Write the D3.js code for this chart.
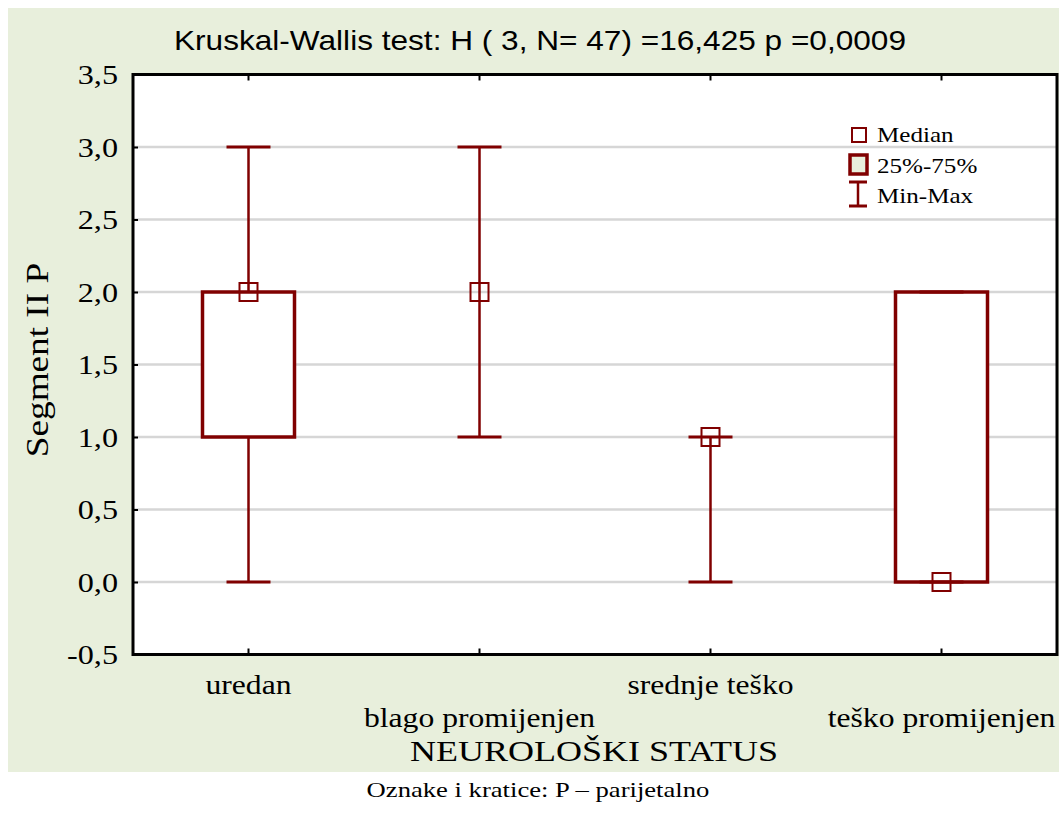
<!DOCTYPE html>
<html><head><meta charset="utf-8">
<script src="https://cdn.jsdelivr.net/npm/d3@7"></script>
<style>body{margin:0;background:#fff;} svg{display:block;}</style>
</head><body>
<svg id="c" width="1059" height="829"></svg>
<script>
const categories = ["uredan", "blago promijenjen", "srednje teško", "teško promijenjen"];
const mins    = [0, 1, 0, 0];
const q1s     = [1, 2, 1, 0];
const medians = [2, 2, 1, 0];
const q3s     = [2, 2, 1, 2];
const maxs    = [3, 3, 1, 2];
const yTicks  = [-0.5, 0, 0.5, 1, 1.5, 2, 2.5, 3, 3.5];
const gridTicks = [0, 0.5, 1, 1.5, 2, 2.5, 3];
const titleText = "Kruskal-Wallis test: H ( 3, N= 47) =16,425 p =0,0009";
const yLabel = "Segment II P";
const xLabel = "NEUROLOŠKI STATUS";
const footnote = "Oznake i kratice: P – parijetalno";
const legendItems = ["Median", "25%-75%", "Min-Max"];

const RED = "#800000", BG = "#E8EFDC";
const SERIF = "Liberation Serif, Times New Roman, serif";
const svg = d3.select("#c");
const L = 133, R = 1057, T = 74.5, B = 654.5;

function stretch(sel, f) {
  sel.each(function () {
    const w = this.getComputedTextLength();
    d3.select(this).attr("textLength", w * f).attr("lengthAdjust", "spacingAndGlyphs");
  });
}

svg.append("rect").attr("x", 8).attr("y", 8).attr("width", 1051).attr("height", 764).attr("fill", BG);
svg.append("rect").attr("x", L).attr("y", T).attr("width", R - L).attr("height", B - T).attr("fill", "#fff");

const x = d3.scaleBand().domain(categories).range([L, R]).padding(0);
const y = d3.scaleLinear().domain([-0.5, 3.5]).range([B, T]);
const fmt = d => d3.format(".1f")(d).replace(".", ",").replace("\u2212", "-");

// grid
svg.append("g").selectAll("line").data(gridTicks).join("line")
  .attr("x1", L).attr("x2", R).attr("y1", d => y(d)).attr("y2", d => y(d))
  .attr("stroke", "#d6d6d6").attr("stroke-width", 2.5);

// y axis (inward ticks)
const yAxis = svg.append("g").attr("transform", `translate(${L},0)`)
  .call(d3.axisLeft(y).tickValues(yTicks).tickFormat(fmt).tickSizeInner(-5).tickSizeOuter(0).tickPadding(15));
yAxis.select(".domain").remove();
yAxis.selectAll(".tick line").attr("stroke", "#000").attr("stroke-width", 2);
yAxis.selectAll("text").attr("font-family", SERIF).attr("font-size", 28).attr("fill", "#000").attr("dy", "0.33em");
stretch(yAxis.selectAll("text"), 1.15);

// x ticks top & bottom (inward)
const xTop = svg.append("g").attr("transform", `translate(0,${T})`)
  .call(d3.axisTop(x).tickSizeInner(-6).tickSizeOuter(0).tickFormat(""));
xTop.select(".domain").remove();
xTop.selectAll(".tick line").attr("stroke", "#000").attr("stroke-width", 2);
const xBot = svg.append("g").attr("transform", `translate(0,${B})`)
  .call(d3.axisBottom(x).tickSizeInner(-6).tickSizeOuter(0).tickFormat(""));
xBot.select(".domain").remove();
xBot.selectAll(".tick line").attr("stroke", "#000").attr("stroke-width", 2);

// x labels, staggered
const xl = svg.append("g").selectAll("text").data(categories).join("text")
  .attr("x", d => x(d) + x.bandwidth() / 2)
  .attr("y", (d, i) => i % 2 === 0 ? 694 : 727)
  .attr("text-anchor", "middle")
  .attr("font-family", SERIF).attr("font-size", 28)
  .text(d => d);
stretch(xl, 1.13);

// boxes
const g = svg.append("g");
const bw = 92, cw = 44, ms = 18;
categories.forEach((c, i) => {
  const cx = x(c) + x.bandwidth() / 2;
  g.append("line").attr("x1", cx).attr("x2", cx).attr("y1", y(mins[i])).attr("y2", y(maxs[i]))
    .attr("stroke", RED).attr("stroke-width", 2.5);
  if (q3s[i] > q1s[i]) {
    g.append("rect").attr("x", cx - bw / 2).attr("y", y(q3s[i])).attr("width", bw)
      .attr("height", y(q1s[i]) - y(q3s[i])).attr("fill", "#fff").attr("stroke", RED).attr("stroke-width", 3.5);
  }
  [mins[i], maxs[i]].forEach(v => {
    g.append("line").attr("x1", cx - cw / 2).attr("x2", cx + cw / 2).attr("y1", y(v)).attr("y2", y(v))
      .attr("stroke", RED).attr("stroke-width", 3);
  });
  g.append("rect").attr("x", cx - ms / 2).attr("y", y(medians[i]) - ms / 2).attr("width", ms).attr("height", ms)
    .attr("fill", "none").attr("stroke", RED).attr("stroke-width", 2);
});

// plot border
svg.append("rect").attr("x", L).attr("y", T).attr("width", R - L).attr("height", B - T)
  .attr("fill", "none").attr("stroke", "#000").attr("stroke-width", 3);

// legend
const lg = svg.append("g").attr("font-family", SERIF).attr("font-size", 22);
lg.append("rect").attr("x", 852).attr("y", 128).attr("width", 14).attr("height", 14)
  .attr("fill", "#fff").attr("stroke", RED).attr("stroke-width", 2);
lg.append("rect").attr("x", 850).attr("y", 155).attr("width", 17).attr("height", 19)
  .attr("fill", BG).attr("stroke", RED).attr("stroke-width", 3.5);
lg.append("line").attr("x1", 858).attr("x2", 858).attr("y1", 182).attr("y2", 206).attr("stroke", RED).attr("stroke-width", 2.5);
lg.append("line").attr("x1", 849).attr("x2", 867).attr("y1", 182).attr("y2", 182).attr("stroke", RED).attr("stroke-width", 3);
lg.append("line").attr("x1", 849).attr("x2", 867).attr("y1", 206).attr("y2", 206).attr("stroke", RED).attr("stroke-width", 3);
const lt = lg.selectAll("text.l").data(legendItems).join("text").attr("class", "l")
  .attr("x", 877).attr("y", (d, i) => 142 + i * 30.5).text(d => d);
stretch(lt, 1.14);

// title
svg.append("text").attr("x", 540).attr("y", 50).attr("text-anchor", "middle")
  .attr("font-family", "Liberation Sans Narrow, Arial Narrow, Liberation Sans, sans-serif").attr("font-size", 28)
  .attr("textLength", 732).attr("lengthAdjust", "spacingAndGlyphs")
  .text(titleText);

// y label
const yl = svg.append("text").attr("transform", "translate(48,360) rotate(-90)").attr("text-anchor", "middle")
  .attr("font-family", SERIF).attr("font-size", 31)
  .text(yLabel);
stretch(yl, 1.2);

// x label
const xlab = svg.append("text").attr("x", 594).attr("y", 761).attr("text-anchor", "middle")
  .attr("font-family", SERIF).attr("font-size", 30)
  .text(xLabel);
stretch(xlab, 1.2);

// footnote
const fn = svg.append("text").attr("x", 538).attr("y", 797).attr("text-anchor", "middle")
  .attr("font-family", SERIF).attr("font-size", 22)
  .text(footnote);
stretch(fn, 1.21);
</script>
</body></html>
